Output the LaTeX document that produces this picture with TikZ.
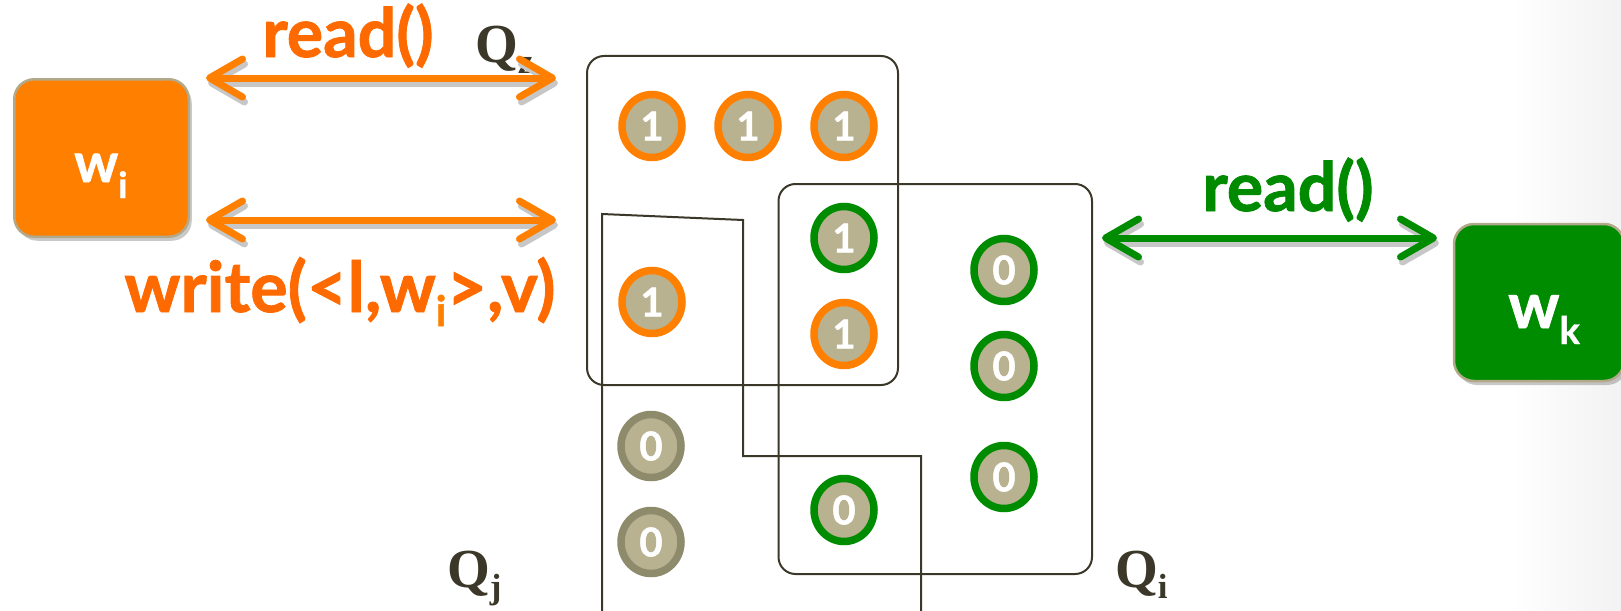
\documentclass[tikz,border=0pt]{standalone}
\usepackage{fontspec}
\setmainfont{Lato}
\newfontfamily\heavyfont{Lato}[BoldFeatures={FakeBold=1.2}]
\newfontfamily\qfont{Liberation Serif}
\usetikzlibrary{arrows.meta,shapes.geometric,shadows}

\definecolor{worange}{HTML}{FF7F00}
\definecolor{torange}{HTML}{FF6A00}
\definecolor{wgreen}{HTML}{008C00}
\definecolor{tgreen}{HTML}{008A00}
\definecolor{khaki}{HTML}{B8B290}
\definecolor{khakiring}{HTML}{8E8A6C}
\definecolor{boxedge}{HTML}{B2A98A}
\definecolor{quorum}{HTML}{3B3729}

\tikzset{
  barbtip/.tip={Straight Barb[length=33pt,width=38pt,line cap=round,line join=round]},
  biarrow/.style={line width=7pt, line cap=round, barbtip-barbtip},
  arrowshadow/.style={biarrow, draw=black!22},
  server/.style={draw=boxedge, line width=2.5pt, rounded corners=20pt, inner sep=0pt,
    drop shadow={shadow xshift=3pt, shadow yshift=-4pt, opacity=0.3, fill=black!70}},
  coin/.style={ellipse, draw=#1, line width=7.5pt, fill=khaki, minimum width=60pt,
    minimum height=63pt, inner sep=0pt, text=white,
    font=\heavyfont\bfseries\fontsize{40}{40}\selectfont},
  qline/.style={draw=quorum, line width=2pt},
  qbox/.style={qline, rounded corners=17pt, inner sep=0pt},
  qlabel/.style={text=quorum, inner sep=0pt, anchor=base west,
    font=\qfont\bfseries\fontsize{55}{55}\selectfont},
  oplabel/.style={inner sep=0pt, anchor=base},
  boxlabel/.style={anchor=base west, inner sep=0pt, text=white},
}
\newcommand{\qsub}[1]{{\fontsize{35}{35}\selectfont\raisebox{-11pt}{#1}}}

\begin{document}
\begin{tikzpicture}[x=1pt,y=-1pt]
\useasboundingbox (0,0) rectangle (1621,610);
\shade[left color=white, right color=black!5] (1510,0) rectangle (1621,610);

% quorums
\node[qbox, minimum width=311pt, minimum height=329pt] (Qz) at (742.5,220.5) {};
\node[qbox, minimum width=313.5pt, minimum height=390pt] (Qi) at (935.25,379) {};
\draw[qline] (602,615) -- (602,214) -- (743,220) -- (743,456) -- (921,456) -- (921,615);

\node[qlabel] (QzL) at (475,63) {Q\qsub{z}};
\node[qlabel] (QjL) at (447,587) {Q\qsub{j}};
\node[qlabel] (QiL) at (1115,587) {Q\qsub{i}};

% writer and reader
\node[server, fill=worange, minimum width=174.5pt, minimum height=157.5pt] (wi) at (101.5,158) {};
\node[server, fill=wgreen, minimum width=170pt, minimum height=157pt] (wk) at (1539,302.5) {};
\node[boxlabel] (wiL) at (74,182)
  {\heavyfont\bfseries{\fontsize{55}{55}\selectfont w}{\fontsize{36}{36}\selectfont\raisebox{-16pt}{i}}};
\node[boxlabel] (wkL) at (1508,328)
  {\heavyfont\bfseries{\fontsize{64}{64}\selectfont w}{\fontsize{38}{38}\selectfont\raisebox{-16pt}{k}}};

% messages
\coordinate (rdA) at (206,78);
\coordinate (rdB) at (556,78);
\coordinate (wrA) at (206,220);
\coordinate (wrB) at (556,220);
\coordinate (rkA) at (1102,238);
\coordinate (rkB) at (1437,238);
\foreach \a/\b in {rdA/rdB, wrA/wrB, rkA/rkB}
  \draw[arrowshadow] ([shift={(2,5)}]\a) -- ([shift={(2,5)}]\b);
\draw[biarrow, draw=worange] (rdA) -- (rdB);
\draw[biarrow, draw=worange] (wrA) -- (wrB);
\draw[biarrow, draw=wgreen] (rkA) -- (rkB);

\node[oplabel, text=torange, font=\heavyfont\bfseries\fontsize{68}{68}\selectfont] (rdL) at (348,57) {read()};
\node[oplabel, text=torange, font=\heavyfont\bfseries\fontsize{70}{70}\selectfont] (wrL) at (340,312)
  {write(<l,w{\color{worange}\fontsize{42}{42}\selectfont\raisebox{-14pt}{i}}>,v)};
\node[oplabel, text=tgreen, font=\heavyfont\bfseries\fontsize{68}{68}\selectfont] (rkL) at (1288,211) {read()};

% replicas
\node[coin=worange] (z1) at (652,126) {1};
\node[coin=worange] (z2) at (748,126) {1};
\node[coin=worange] (z3) at (844,126) {1};
\node[coin=worange] (j1) at (652,302) {1};
\node[coin=wgreen]  (i1) at (844,238) {1};
\node[coin=worange] (i2) at (844,334) {1};
\node[coin=wgreen]  (i3) at (1004,270) {0};
\node[coin=wgreen]  (i4) at (1004,366) {0};
\node[coin=wgreen]  (i5) at (1004,477) {0};
\node[coin=wgreen]  (i6) at (844,510) {0};
\node[coin=khakiring] (j2) at (651,446) {0};
\node[coin=khakiring] (j3) at (651,542) {0};
\end{tikzpicture}
\end{document}
